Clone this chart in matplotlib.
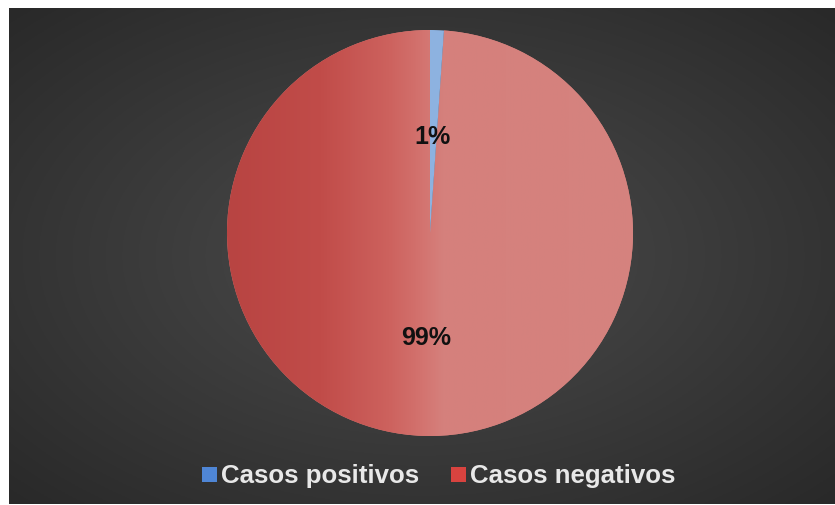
import numpy as np
import matplotlib
matplotlib.use("Agg")
import matplotlib.pyplot as plt
from matplotlib.patches import Rectangle
from matplotlib.colors import LinearSegmentedColormap

categories = ["Casos positivos", "Casos negativos"]
values = [1.1, 98.9]
labels_pct = ["1%", "99%"]
slice_colors = ["#8db2e0", "#d5827e"]
legend_colors = ["#4f86d6", "#d8433f"]

W, H = 835, 506
fig = plt.figure(figsize=(W / 100, H / 100), dpi=100)
fig.patch.set_facecolor("white")

# background axes with radial gradient (dark area from x=9..835, y=9..505 px)
bx0, bx1, by_top, by_bot = 9, 835, 9, 505
bg = fig.add_axes([bx0 / W, (H - by_bot) / H, (bx1 - bx0) / W, (by_bot - by_top) / H])
bg.axis("off")
xs = np.linspace(-1, 1, 400)
ys = np.linspace(-1, 1, 250)
X, Y = np.meshgrid(xs, ys)
r = np.sqrt(X ** 2 + Y ** 2)
v = (0x4c - (0x4c - 0x29) * np.clip(r / 1.414, 0, 1)) / 255.0
bg.imshow(np.dstack([v, v, v]), extent=[0, 1, 0, 1], origin="lower", aspect="auto")
bg.set_xlim(0, 1)
bg.set_ylim(0, 1)

ax = fig.add_axes([0, 0, 1, 1])
ax.patch.set_alpha(0)
center = (430, H - 234)
radius = 203
wedges, texts = ax.pie(values, colors=slice_colors, startangle=90, counterclock=False,
                       center=center, radius=radius, frame=True,
                       wedgeprops=dict(linewidth=0))
ax.set_xlim(0, W)
ax.set_ylim(0, H)
ax.set_aspect("auto")
ax.axis("off")
for w in wedges:
    w.set_zorder(2)

# gradient on the red slice
cmap = LinearSegmentedColormap.from_list("redgrad", [
    (0.0, "#b84442"), (0.23, "#c14c49"), (0.40, "#cd625e"), (0.48, "#d3736f"),
    (0.53, "#d5807c"), (1.0, "#d5837f")])
grad = np.tile(np.linspace(0, 1, 500), (10, 1))
im = ax.imshow(grad, cmap=cmap, extent=[center[0] - radius, center[0] + radius,
                                        center[1] - radius, center[1] + radius],
               origin="lower", aspect="auto", zorder=3)
im.set_clip_path(wedges[1])
wedges[0].set_zorder(4)
ax.set_xlim(0, W)
ax.set_ylim(0, H)

# percentage labels
ax.text(432, H - 137, labels_pct[0], ha="center", va="center", fontsize=18,
        fontweight="bold", color="#111111", family="Liberation Sans", zorder=5)
ax.text(426, H - 338, labels_pct[1], ha="center", va="center", fontsize=18,
        fontweight="bold", color="#111111", family="Liberation Sans", zorder=5)

# legend
leg_y = H - 476
for cat, col, mx in zip(categories, legend_colors, [202, 451]):
    ax.add_patch(Rectangle((mx, leg_y - 7), 15, 15, facecolor=col, edgecolor="none", zorder=5))
    ax.text(mx + 19, leg_y, cat, ha="left", va="center", fontsize=18.6, fontweight="bold",
            color="#e8e8e8", family="Liberation Sans", zorder=5)

fig.savefig("out.png", dpi=100, facecolor="white")
